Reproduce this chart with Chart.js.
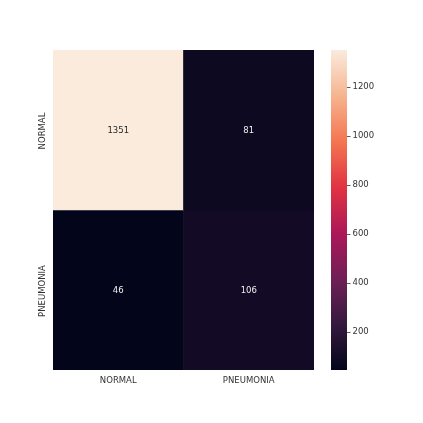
<!DOCTYPE html>
<html>
<head>
<meta charset="utf-8">
<script src="https://cdn.jsdelivr.net/npm/chart.js@4/dist/chart.umd.min.js"></script>
<style>
  html, body { margin: 0; padding: 0; background: #fff; }
  #wrap { position: relative; width: 423px; height: 423px; }
  #wrap canvas { position: absolute; left: 0; top: 0; }
</style>
</head>
<body>
<div id="wrap">
  <canvas id="heat" width="423" height="423"></canvas>
  <canvas id="cbar" width="423" height="423"></canvas>
</div>
<script>
// ------------------------------ data ------------------------------
const classLabels = ['NORMAL', 'PNEUMONIA'];
const rowNormal = [1351, 81];
const rowPneumonia = [46, 106];
const cbTicks = [200, 400, 600, 800, 1000, 1200];

// ------------------------------ colormap (seaborn "rocket") ------------------------------
const rocketStops = [
  [0.000, [3, 5, 26]],
  [0.143, [53, 25, 62]],
  [0.286, [112, 31, 87]],
  [0.429, [173, 23, 89]],
  [0.571, [225, 51, 66]],
  [0.714, [243, 118, 81]],
  [0.857, [246, 180, 143]],
  [1.000, [250, 235, 221]]
];

const allValues = rowNormal.concat(rowPneumonia);
const vmin = Math.min(...allValues);
const vmax = Math.max(...allValues);

function rocketRgb(t) {
  t = Math.max(0, Math.min(1, t));
  for (let i = 1; i < rocketStops.length; i++) {
    const [t1, c1] = rocketStops[i];
    const [t0, c0] = rocketStops[i - 1];
    if (t <= t1) {
      const f = (t - t0) / (t1 - t0);
      return c0.map((c, k) => Math.round(c + (c1[k] - c) * f));
    }
  }
  return rocketStops[rocketStops.length - 1][1];
}

function cellColor(v) {
  const c = rocketRgb((v - vmin) / (vmax - vmin));
  return 'rgb(' + c.join(',') + ')';
}

function textColor(v) {
  const c = rocketRgb((v - vmin) / (vmax - vmin));
  const lum = 0.2126 * c[0] + 0.7152 * c[1] + 0.0722 * c[2];
  return lum > 120 ? '#262626' : '#f0f0f0';
}

const FONT = "'DejaVu Sans', sans-serif";
const FONT_SIZE = 8.5;
const LABEL_COLOR = '#333333';

// ------------------------------ heatmap ------------------------------
const rows = [rowNormal, rowPneumonia];

// numbers in the cells + rotated row labels
const heatLabels = {
  id: 'heatLabels',
  afterDatasetsDraw(chart) {
    const ctx = chart.ctx;
    const xs = chart.scales.x;
    const ys = chart.scales.y;
    ctx.save();
    ctx.font = FONT_SIZE + 'px ' + FONT;
    ctx.textAlign = 'center';
    ctx.textBaseline = 'middle';
    rows.forEach((row, i) => {
      const y = ys.getPixelForValue(i + 0.5);
      row.forEach((v, j) => {
        ctx.fillStyle = textColor(v);
        ctx.fillText(String(v), xs.getPixelForValue(j), y + 1);
      });
      // row label
      ctx.save();
      ctx.translate(42.5, y + 1);
      ctx.rotate(-Math.PI / 2);
      ctx.fillStyle = LABEL_COLOR;
      ctx.fillText(classLabels[i], 0, 0);
      ctx.restore();
    });
    ctx.restore();
  }
};

new Chart(document.getElementById('heat'), {
  type: 'bar',
  data: {
    labels: classLabels,
    datasets: rows.map((row, i) => ({
      data: row.map(() => [i, i + 1]),
      backgroundColor: row.map(cellColor),
      borderWidth: 0,
      grouped: false,
      barPercentage: 1,
      categoryPercentage: 1
    }))
  },
  options: {
    responsive: false,
    animation: false,
    layout: { padding: { left: 53, right: 109, top: 50, bottom: 0 } },
    plugins: { legend: { display: false }, tooltip: { enabled: false } },
    scales: {
      x: {
        grid: { display: false, drawTicks: false },
        border: { display: false },
        ticks: { padding: 6, color: LABEL_COLOR, font: { family: FONT, size: FONT_SIZE } },
        afterFit: (scale) => { scale.height = 53; }
      },
      y: {
        display: false,
        min: 0,
        max: 2,
        reverse: true
      }
    }
  },
  plugins: [heatLabels]
});

// ------------------------------ colorbar ------------------------------
new Chart(document.getElementById('cbar'), {
  type: 'bar',
  data: {
    labels: ['cbar'],
    datasets: [{
      data: [[vmin, vmax]],
      backgroundColor: (c) => {
        const area = c.chart.chartArea;
        if (!area) return null;
        const g = c.chart.ctx.createLinearGradient(0, area.bottom, 0, area.top);
        rocketStops.forEach(([t, col]) => g.addColorStop(t, 'rgb(' + col.join(',') + ')'));
        return g;
      },
      borderWidth: 0,
      barPercentage: 1,
      categoryPercentage: 1
    }]
  },
  options: {
    responsive: false,
    animation: false,
    layout: { padding: { left: 331, right: 0, top: 50, bottom: 53 } },
    plugins: { legend: { display: false }, tooltip: { enabled: false } },
    scales: {
      x: { display: false },
      y: {
        position: 'right',
        min: vmin,
        max: vmax,
        afterBuildTicks: (scale) => { scale.ticks = cbTicks.map(v => ({ value: v })); },
        afterFit: (scale) => { scale.width = 76; },
        grid: { drawOnChartArea: false, drawTicks: true, tickLength: 3.5, color: LABEL_COLOR, lineWidth: 0.8 },
        border: { display: false },
        ticks: {
          padding: 2,
          color: LABEL_COLOR,
          font: { family: FONT, size: FONT_SIZE },
          callback: (v) => String(v)
        }
      }
    }
  }
});
</script>
</body>
</html>
